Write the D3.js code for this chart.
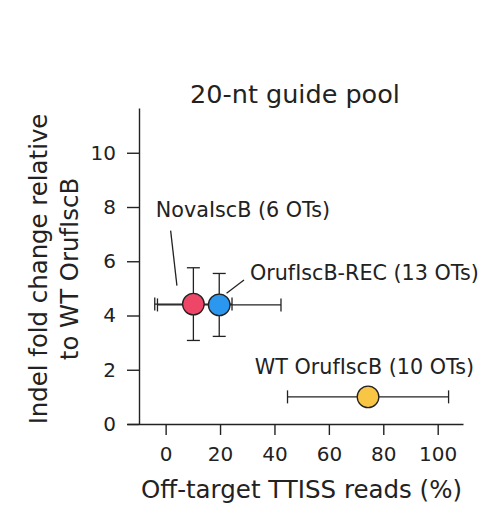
<!DOCTYPE html>
<html>
<head>
<meta charset="utf-8">
<script src="https://cdn.jsdelivr.net/npm/d3@7"></script>
<style>
  html, body { margin: 0; padding: 0; background: #fff; }
  svg { display: block; font-family: "DejaVu Sans", sans-serif; }
</style>
</head>
<body>
<svg id="chart" width="501" height="518"></svg>
<script>
// ---- data ----
const names = ["NovaIscB (6 OTs)", "OrufIscB-REC (13 OTs)", "WT OrufIscB (10 OTs)"];
const xValues = [10.2, 19.7, 74.4];
const xErrors = [14.2, 22.7, 29.6];
const yValues = [4.42, 4.39, 1.0];
const yErrors = [1.34, 1.16, 0];
const colors = ["#EE4667", "#2B97EE", "#F9C544"];
const xTicks = [0, 20, 40, 60, 80, 100];
const yTicks = [0, 2, 4, 6, 8, 10];
// label anchor points (data space) and leader lines
const labelPos = [[-3.6, 7.63], [31.0, 5.31], [32.8, 1.84]];
const leaders = [[[1.84, 7.13], [4.15, 5.10]], [[28.8, 5.31], [22.4, 4.82]], null];

const title = "20-nt guide pool";
const xTitle = "Off-target TTISS reads (%)";
const yTitle = ["Indel fold change relative", "to WT OrufIscB"];

// ---- layout ----
const svg = d3.select("#chart");
const x = d3.scaleLinear().domain([-14.2, 109.3]).range([127, 463]);
const y = d3.scaleLinear().domain([0, 11.65]).range([424, 108]);
const axisX = 139; // y axis line position
const ink = "#222";
const font = "DejaVu Sans";

// x axis
const gx = svg.append("g").attr("transform", `translate(0,${y(0)})`)
  .call(d3.axisBottom(x).tickValues(xTicks).tickSize(11).tickPadding(12).tickSizeOuter(0));
gx.select(".domain").attr("stroke", ink).attr("stroke-width", 1.4);
gx.selectAll(".tick line").attr("stroke", ink).attr("stroke-width", 1.4);
gx.selectAll(".tick text").attr("fill", ink).attr("font-size", 20).attr("font-family", font);

// y axis
const gy = svg.append("g").attr("transform", `translate(${axisX},0)`)
  .call(d3.axisLeft(y).tickValues(yTicks).tickSize(12).tickPadding(11).tickSizeOuter(0));
gy.select(".domain").attr("stroke", ink).attr("stroke-width", 1.4);
gy.selectAll(".tick line").attr("stroke", ink).attr("stroke-width", 1.4);
gy.selectAll(".tick text").attr("fill", ink).attr("font-size", 20).attr("font-family", font);

// titles
svg.append("text").attr("x", (x.range()[0] + x.range()[1]) / 2).attr("y", 103)
  .attr("text-anchor", "middle").attr("font-size", 25.5).attr("fill", ink).text(title);
svg.append("text").attr("x", 301.5).attr("y", 498)
  .attr("text-anchor", "middle").attr("font-size", 24.5).attr("fill", ink).text(xTitle);
const yt = svg.append("text").attr("transform", "translate(46.5,269) rotate(-90)")
  .attr("text-anchor", "middle").attr("font-size", 24.4).attr("fill", ink);
yTitle.forEach((t, i) => {
  yt.append("tspan").attr("x", 0).attr("y", i * 31.5).text(t);
});

// data rows
const data = names.map((n, i) => ({
  name: n, x: xValues[i], xe: xErrors[i], y: yValues[i], ye: yErrors[i],
  color: colors[i], label: labelPos[i], leader: leaders[i]
}));

const cap = 6.5;
const eb = svg.append("g").attr("stroke", ink).attr("stroke-width", 1.3).attr("fill", "none");
data.forEach(d => {
  eb.append("line").attr("x1", x(d.x - d.xe)).attr("x2", x(d.x + d.xe)).attr("y1", y(d.y)).attr("y2", y(d.y));
  [d.x - d.xe, d.x + d.xe].forEach(v => eb.append("line")
    .attr("x1", x(v)).attr("x2", x(v)).attr("y1", y(d.y) - cap).attr("y2", y(d.y) + cap));
  if (d.ye > 0) {
    eb.append("line").attr("x1", x(d.x)).attr("x2", x(d.x)).attr("y1", y(d.y - d.ye)).attr("y2", y(d.y + d.ye));
    [d.y - d.ye, d.y + d.ye].forEach(v => eb.append("line")
      .attr("x1", x(d.x) - cap).attr("x2", x(d.x) + cap).attr("y1", y(v)).attr("y2", y(v)));
  }
});

svg.append("g").selectAll("circle").data(data).join("circle")
  .attr("cx", d => x(d.x)).attr("cy", d => y(d.y)).attr("r", 10.8)
  .attr("fill", d => d.color).attr("stroke", ink).attr("stroke-width", 1.3);

svg.append("g").selectAll("line").data(data.filter(d => d.leader)).join("line")
  .attr("x1", d => x(d.leader[0][0])).attr("y1", d => y(d.leader[0][1]))
  .attr("x2", d => x(d.leader[1][0])).attr("y2", d => y(d.leader[1][1]))
  .attr("stroke", ink).attr("stroke-width", 1.3);

svg.append("g").selectAll("text").data(data).join("text")
  .attr("x", d => x(d.label[0])).attr("y", d => y(d.label[1]))
  .attr("font-size", 20.7).attr("fill", ink).text(d => d.name);
</script>
</body>
</html>
